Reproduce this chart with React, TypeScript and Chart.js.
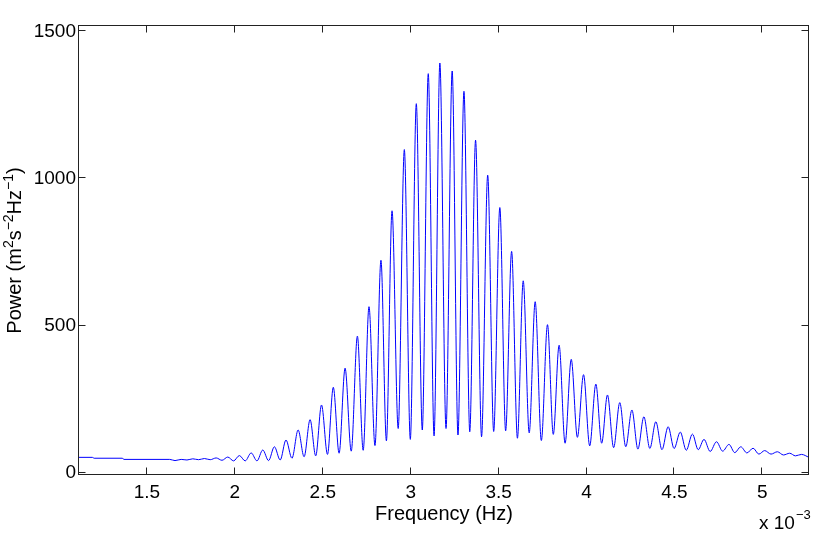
import React, { useEffect, useRef } from 'react';
import { Chart, registerables } from 'chart.js';

Chart.register(...registerables);

const FONT = '"Liberation Sans", Arial, Helvetica, sans-serif';

// Frequencies are in units of 10^-3 Hz (the axis carries the "x 10^-3" multiplier)
const baselineFreq = [1.114, 1.19, 1.2, 1.36, 1.37, 1.63, 1.66];
const baselinePower = [52, 52, 49, 49, 45, 45, 41];

const peakFreq = [
  1.695, 1.761, 1.827, 1.894, 1.96, 2.026, 2.093, 2.159, 2.225, 2.291,
  2.36, 2.428, 2.493, 2.56, 2.627, 2.697, 2.763, 2.831, 2.894, 2.964,
  3.032, 3.1, 3.166, 3.236, 3.303, 3.369, 3.438, 3.507, 3.574, 3.64,
  3.708, 3.778, 3.844, 3.913, 3.983, 4.053, 4.119, 4.189, 4.258, 4.326,
  4.394, 4.464, 4.533, 4.602, 4.668, 4.739, 4.81, 4.877, 4.947, 5.013,
  5.085, 5.155, 5.222,
];
const peakPower = [
  45, 47, 48, 50, 53, 58, 67, 77, 88, 111,
  145, 180, 230, 290, 355, 464, 564, 722, 890, 1098,
  1254, 1356, 1392, 1365, 1296, 1130, 1011, 901, 752, 652,
  581, 503, 433, 385, 333, 301, 264, 238, 213, 190,
  173, 156, 138, 131, 113, 105, 96, 88, 83, 75,
  71, 66, 62,
];

const troughFreq = [
  1.728, 1.794, 1.86, 1.927, 1.993, 2.059, 2.126, 2.192, 2.258, 2.325,
  2.394, 2.46, 2.527, 2.593, 2.662, 2.73, 2.797, 2.862, 2.929, 2.998,
  3.066, 3.133, 3.201, 3.269, 3.336, 3.403, 3.472, 3.54, 3.607, 3.674,
  3.743, 3.811, 3.878, 3.948, 4.018, 4.086, 4.154, 4.223, 4.292, 4.36,
  4.429, 4.498, 4.567, 4.635, 4.703, 4.774, 4.843, 4.912, 4.98, 5.049,
  5.12, 5.188, 5.265,
];
const troughPower = [
  43, 44, 44, 42, 40, 40, 40, 41, 43, 49,
  54, 57, 62, 66, 73, 76, 92, 108, 150, 113,
  145, 125, 150, 128, 139, 122, 140, 142, 117, 135,
  109, 130, 100, 120, 91, 100, 85, 88, 80, 82,
  78, 82, 76, 78, 72, 73, 68, 67, 63, 63,
  60, 57, 52,
];

const xTickValues = [1.5, 2, 2.5, 3, 3.5, 4, 4.5, 5];
const yTickValues = [0, 500, 1000, 1500];
const xLabel = 'Frequency (Hz)';
const xMultiplierBase = 'x 10';
const xMultiplierExp = '\u22123';
const yLabelParts: [string, boolean][] = [
  ['Power (m', false],
  ['2', true],
  ['s', false],
  ['\u22122', true],
  ['Hz', false],
  ['\u22121', true],
  [')', false],
];

const X_MIN = 1.114;
const X_MAX = 5.265;
const Y_MIN = -8;
const Y_MAX = 1518;

function buildPoints() {
  const pts: { x: number; y: number }[] = [];
  baselineFreq.forEach((f, i) => pts.push({ x: f, y: baselinePower[i] }));
  peakFreq.forEach((f, i) => pts.push({ x: f, y: peakPower[i] }));
  troughFreq.forEach((f, i) => pts.push({ x: f, y: troughPower[i] }));
  pts.sort((a, b) => a.x - b.x);
  return pts;
}

const framePlugin = {
  id: 'matlabFrame',
  afterDraw(chart: any) {
    const { ctx, chartArea: a, scales } = chart;
    const xs = scales.x;
    const ys = scales.y;
    const L = Math.round(a.left) - 0.5;
    const R = Math.round(a.right) - 0.5;
    const T = Math.round(a.top) - 0.5;
    const B = Math.round(a.bottom) - 0.5;
    const TL = 7;
    ctx.save();
    ctx.strokeStyle = '#222';
    ctx.lineWidth = 1;
    ctx.strokeRect(L, T, R - L, B - T);
    ctx.beginPath();
    xTickValues.forEach((v) => {
      const p = Math.round(xs.getPixelForValue(v)) - 0.5;
      ctx.moveTo(p, B);
      ctx.lineTo(p, B - TL);
      ctx.moveTo(p, T);
      ctx.lineTo(p, T + TL);
    });
    yTickValues.forEach((v) => {
      const p = Math.round(ys.getPixelForValue(v)) - 0.5;
      ctx.moveTo(L, p);
      ctx.lineTo(L + TL, p);
      ctx.moveTo(R, p);
      ctx.lineTo(R - TL, p);
    });
    ctx.stroke();

    // x axis label
    ctx.fillStyle = '#000';
    ctx.font = `20px ${FONT}`;
    ctx.textAlign = 'center';
    ctx.textBaseline = 'alphabetic';
    ctx.fillText(xLabel, (a.left + a.right) / 2, 520);

    // multiplier
    ctx.textAlign = 'left';
    ctx.font = `19px ${FONT}`;
    const mx = 759;
    ctx.fillText(xMultiplierBase, mx, 529);
    const mw = ctx.measureText(xMultiplierBase).width;
    ctx.font = `13px ${FONT}`;
    ctx.fillText(xMultiplierExp, mx + mw + 1, 518.5);

    // y axis label with superscripts
    const mainFont = `20px ${FONT}`;
    const supFont = `14px ${FONT}`;
    let total = 0;
    yLabelParts.forEach(([t, sup]) => {
      ctx.font = sup ? supFont : mainFont;
      total += ctx.measureText(t).width;
    });
    ctx.translate(20.5, (a.top + a.bottom) / 2);
    ctx.rotate(-Math.PI / 2);
    let cx = -total / 2;
    yLabelParts.forEach(([t, sup]) => {
      ctx.font = sup ? supFont : mainFont;
      ctx.fillText(t, cx, sup ? -8 : 0);
      cx += ctx.measureText(t).width;
    });
    ctx.restore();
  },
};

export default function App() {
  const canvasRef = useRef<HTMLCanvasElement | null>(null);

  useEffect(() => {
    if (!canvasRef.current) return;
    const chart = new Chart(canvasRef.current, {
      type: 'line',
      data: {
        datasets: [
          {
            data: buildPoints(),
            borderColor: '#0000ff',
            borderWidth: 1,
            pointRadius: 0,
            fill: false,
            cubicInterpolationMode: 'monotone',
          },
        ],
      },
      options: {
        animation: false,
        responsive: true,
        maintainAspectRatio: false,
        devicePixelRatio: 1,
        parsing: false as any,
        layout: { padding: { left: 0, right: 22, top: 26, bottom: 0 } },
        plugins: {
          legend: { display: false },
          tooltip: { enabled: false },
        },
        scales: {
          x: {
            type: 'linear',
            min: X_MIN,
            max: X_MAX,
            afterBuildTicks: (s: any) => {
              s.ticks = xTickValues.map((value) => ({ value }));
            },
            afterFit: (s: any) => {
              s.height = 63;
            },
            grid: { display: false, drawTicks: false },
            border: { display: false },
            ticks: {
              font: { family: FONT, size: 19 },
              color: '#000',
              padding: 6,
              autoSkip: false,
              maxRotation: 0,
              callback: (v: any) => String(v),
            },
          },
          y: {
            type: 'linear',
            min: Y_MIN,
            max: Y_MAX,
            afterBuildTicks: (s: any) => {
              s.ticks = yTickValues.map((value) => ({ value }));
            },
            afterFit: (s: any) => {
              s.width = 79;
            },
            grid: { display: false, drawTicks: false },
            border: { display: false },
            ticks: {
              font: { family: FONT, size: 19 },
              color: '#000',
              padding: 3,
              autoSkip: false,
              callback: (v: any) => String(v),
            },
          },
        },
      },
      plugins: [framePlugin],
    });
    return () => chart.destroy();
  }, []);

  return (
    <div style={{ position: 'fixed', left: 0, top: 0, width: 831, height: 538, background: '#fff' }}>
      <canvas ref={canvasRef} />
    </div>
  );
}
